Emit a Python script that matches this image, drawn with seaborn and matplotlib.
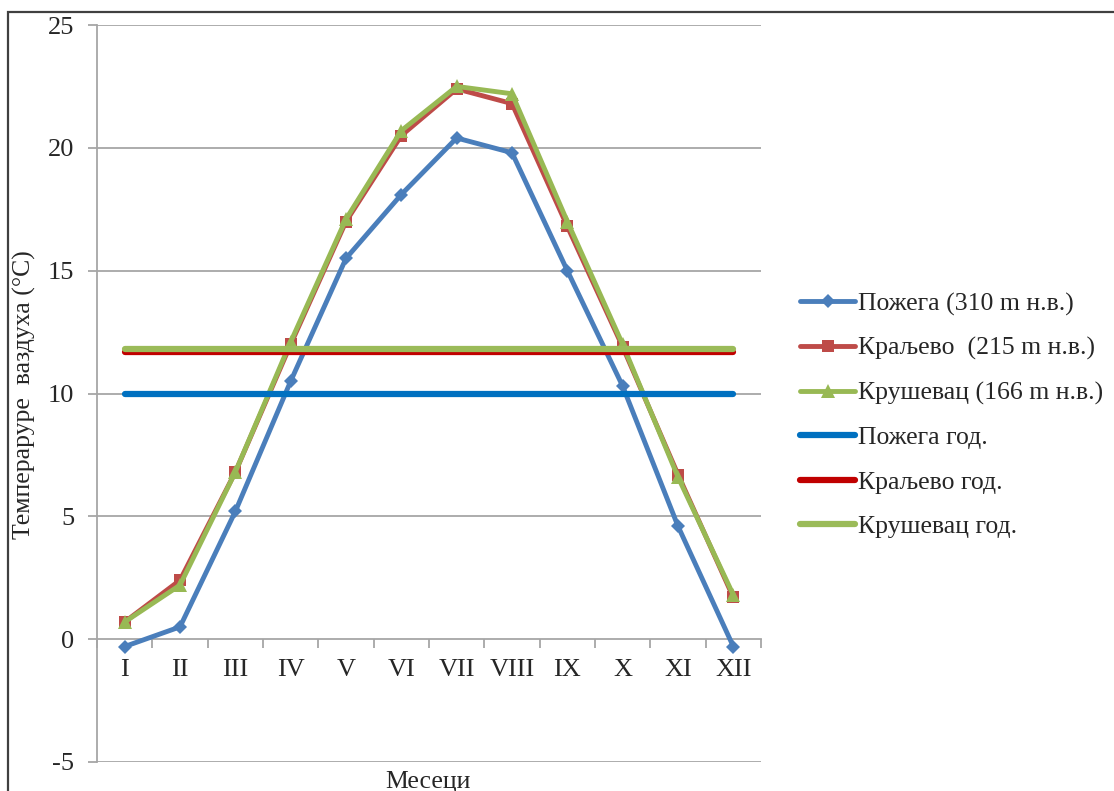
import numpy as np
import pandas as pd
import matplotlib
matplotlib.use("Agg")
import matplotlib.pyplot as plt
import matplotlib.patches as mpatches
import seaborn as sns

months = ["I", "II", "III", "IV", "V", "VI", "VII", "VIII", "IX", "X", "XI", "XII"]
pozega = [-0.3, 0.5, 5.2, 10.5, 15.5, 18.1, 20.4, 19.8, 15.0, 10.3, 4.6, -0.3]
kraljevo = [0.7, 2.4, 6.8, 12.0, 17.0, 20.5, 22.4, 21.8, 16.8, 11.9, 6.7, 1.7]
krusevac = [0.7, 2.2, 6.8, 12.1, 17.1, 20.7, 22.5, 22.2, 17.0, 12.0, 6.6, 1.8]
annual_means = [10.0, 11.7, 11.8]

series_labels = ["Пожега (310 m н.в.)", "Краљево  (215 m н.в.)", "Крушевац (166 m н.в.)"]
annual_labels = ["Пожега год.", "Краљево год.", "Крушевац год."]
y_ticks = [-5, 0, 5, 10, 15, 20, 25]
ylabel = "Темпераруре  ваздуха (°C)"
xlabel = "Месеци"

sns.set_style("white")
plt.rcParams["font.family"] = ["Liberation Serif", "DejaVu Serif"]

W, H = 1114, 791
fig = plt.figure(figsize=(W / 100, H / 100), dpi=100)
ax = fig.add_axes([97 / W, 1 - 762 / H, (761 - 97) / W, (762 - 25) / H])

x = np.arange(len(months))
grid_c = "#a6a6a6"

series_colors = ["#4a7ebb", "#be4b48", "#98b954"]
series_markers = ["D", "s", "^"]
series_ms = [7.5, 8.5, 10]
for vals, lab, c, m, ms in zip([pozega, kraljevo, krusevac], series_labels,
                               series_colors, series_markers, series_ms):
    sns.lineplot(x=x, y=vals, ax=ax, color=c, marker=m, markersize=ms,
                 markeredgewidth=0, linewidth=3.5, label=lab, zorder=3)

annual_colors = ["#0070c0", "#c00000", "#9bbb59"]
for v, lab, c in zip(annual_means, annual_labels, annual_colors):
    sns.lineplot(x=x, y=[v] * len(x), ax=ax, color=c, linewidth=4.5,
                 label=lab, zorder=4)
for ln in ax.get_lines()[3:]:
    ln.set_solid_capstyle("round")

ax.set_xlim(-0.5, len(months) - 0.5)
ax.set_ylim(-5, 25)
ax.set_yticks(y_ticks)
ax.set_yticklabels([str(t) for t in y_ticks])
ax.set_xticks(x)
ax.set_xticklabels(months)
ax.set_xticks(np.arange(len(months) + 1) - 0.5, minor=True)

ax.grid(False)
for t in y_ticks:
    if t != 0:
        ax.axhline(t, color=grid_c, lw=1.3, zorder=1)

for s in ["top", "right"]:
    ax.spines[s].set_visible(False)
ax.spines["bottom"].set_position(("data", 0))
ax.spines["bottom"].set_color(grid_c)
ax.spines["bottom"].set_linewidth(1.3)
ax.spines["bottom"].set_zorder(1)
ax.spines["left"].set_color(grid_c)
ax.spines["left"].set_linewidth(1.3)

ax.tick_params(axis="y", which="major", direction="out", length=6.5, width=1.3,
               color=grid_c, labelsize=19, pad=10, left=True)
ax.tick_params(axis="x", which="major", length=0, labelsize=19, pad=14, bottom=True)
ax.tick_params(axis="x", which="minor", direction="out", length=6.5, width=1.3,
               color=grid_c, bottom=True)

ax.set_xlabel("")
ax.set_ylabel("")
fig.text(24 / W, 1 - 395 / H, ylabel, rotation=90, ha="center", va="center", fontsize=18.5)
fig.text(428 / W, 1 - 788 / H, xlabel, ha="center", va="baseline", fontsize=18.5)

handles, labels = ax.get_legend_handles_labels()
ax.get_legend().remove()
fig.legend(handles, labels, loc="center left", bbox_to_anchor=(790 / W, 1 - 415 / H),
           frameon=False, fontsize=18.5, handlelength=2.14, handletextpad=0.1,
           labelspacing=0.83, borderaxespad=0)

rect = mpatches.Rectangle((8 / W, -0.2), 1.2, 1 - 12 / H + 0.2, transform=fig.transFigure,
                          fill=False, edgecolor="#404040", linewidth=1.6, clip_on=False)
fig.patches.append(rect)

fig.savefig("out.png", dpi=100, facecolor="white")
